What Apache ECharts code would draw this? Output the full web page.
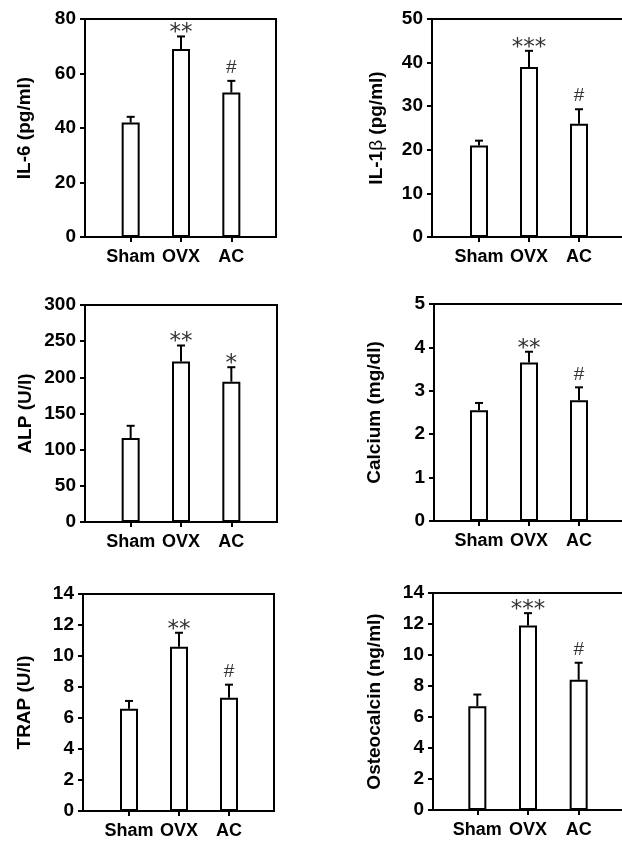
<!DOCTYPE html>
<html>
<head>
<meta charset="utf-8">
<script src="https://cdn.jsdelivr.net/npm/echarts@6/dist/echarts.min.js"></script>
<style>
html,body{margin:0;padding:0;background:#fff;}
#chart{width:622px;height:843px;}
</style>
</head>
<body>
<div id="chart"></div>
<script>
// ---- data ----
var categories = ['Sham', 'OVX', 'AC'];

var il6Mean = [42, 69, 53];
var il6Err = [2.1, 4.6, 4.3];
var il6Sig = ['', '**', '#'];

var il1bMean = [21, 39, 26];
var il1bErr = [1.1, 3.7, 3.3];
var il1bSig = ['', '***', '#'];

var alpMean = [116, 222, 194];
var alpErr = [17, 22, 20];
var alpSig = ['', '**', '*'];

var calciumMean = [2.55, 3.65, 2.78];
var calciumErr = [0.17, 0.25, 0.3];
var calciumSig = ['', '**', '#'];

var trapMean = [6.6, 10.6, 7.3];
var trapErr = [0.5, 0.9, 0.85];
var trapSig = ['', '**', '#'];

var osteoMean = [6.7, 11.9, 8.4];
var osteoErr = [0.75, 0.8, 1.1];
var osteoSig = ['', '***', '#'];

var yNames = ['IL-6 (pg/ml)', 'IL-1{b|β} (pg/ml)', 'ALP (U/l)', 'Calcium (mg/dl)', 'TRAP (U/l)', 'Osteocalcin (ng/ml)'];
var yMax = [80, 50, 300, 5, 14, 14];
var yInterval = [20, 10, 50, 1, 2, 2];

// ---- layout (positions/styles) ----
var panels = [
  {mean: il6Mean, err: il6Err, sig: il6Sig, frame: {left: 85, top: 19, width: 191, height: 218}, bars: {left: 105.5, width: 151}, gap: 51, rightLine: true},
  {mean: il1bMean, err: il1bErr, sig: il1bSig, frame: {left: 432, top: 19, width: 200, height: 218}, bars: {left: 454, width: 150}, gap: 46, rightLine: false},
  {mean: alpMean, err: alpErr, sig: alpSig, frame: {left: 85, top: 305, width: 192, height: 217}, bars: {left: 105.5, width: 151}, gap: 50, rightLine: true},
  {mean: calciumMean, err: calciumErr, sig: calciumSig, frame: {left: 434, top: 304, width: 200, height: 217}, bars: {left: 454, width: 150}, gap: 50, rightLine: false},
  {mean: trapMean, err: trapErr, sig: trapSig, frame: {left: 83, top: 594, width: 191, height: 217}, bars: {left: 104, width: 150}, gap: 49, rightLine: true},
  {mean: osteoMean, err: osteoErr, sig: osteoSig, frame: {left: 433, top: 593, width: 200, height: 217}, bars: {left: 452, width: 152}, gap: 49, rightLine: false}
];

var FONT = "'Liberation Sans', Arial, Helvetica, sans-serif";
var LINE = {color: '#000', width: 2, cap: 'square'};
var grids = [], xAxes = [], yAxes = [], series = [];

function plainX(g, pos) {
  xAxes.push({type: 'value', gridIndex: g, position: pos, min: 0, max: 1,
    axisLine: {show: true, onZero: false, lineStyle: LINE},
    axisTick: {show: false}, axisLabel: {show: false}, splitLine: {show: false}});
}

panels.forEach(function (p, k) {
  var g = grids.length;
  grids.push({left: p.frame.left, top: p.frame.top, width: p.frame.width, height: p.frame.height});
  plainX(g, 'bottom');
  plainX(g, 'top');
  yAxes.push({
    type: 'value', gridIndex: g, position: 'left', min: 0, max: yMax[k], interval: yInterval[k],
    name: yNames[k], nameLocation: 'middle', nameGap: p.gap, nameRotate: 90,
    nameTextStyle: {fontFamily: FONT, fontWeight: 'bold', fontSize: 19, color: '#000',
      rich: {b: {fontFamily: FONT, fontWeight: 'normal', fontSize: 19, color: '#000'}}},
    axisLine: {show: true, onZero: false, lineStyle: LINE},
    axisTick: {show: true, length: 5, lineStyle: {color: '#000', width: 2}},
    axisLabel: {fontFamily: FONT, fontWeight: 'bold', fontSize: 19, color: '#000', margin: 9},
    splitLine: {show: false}
  });
  if (p.rightLine) {
    yAxes.push({type: 'value', gridIndex: g, position: 'right', min: 0, max: yMax[k],
      axisLine: {show: true, onZero: false, lineStyle: LINE},
      axisTick: {show: false}, axisLabel: {show: false}, splitLine: {show: false}});
  }

  // bar grid
  var bg = grids.length;
  grids.push({left: p.bars.left, top: p.frame.top, width: p.bars.width, height: p.frame.height});
  var xi = xAxes.length;
  xAxes.push({
    type: 'category', gridIndex: bg, data: categories,
    axisLine: {show: false},
    axisTick: {show: true, alignWithLabel: true, length: 5, lineStyle: {color: '#000', width: 2}},
    axisLabel: {fontFamily: FONT, fontWeight: 'bold', fontSize: 18, color: '#000', margin: 11, interval: 0}
  });
  var yi = yAxes.length;
  yAxes.push({type: 'value', gridIndex: bg, min: 0, max: yMax[k], show: false, splitLine: {show: false}});
  series.push({
    type: 'bar', xAxisIndex: xi, yAxisIndex: yi, data: p.mean, barWidth: 18,
    itemStyle: {color: '#fff', borderColor: '#000', borderWidth: 2},
    silent: true, animation: false
  });
  var errData = p.mean.map(function (m, i) { return [i, m, p.err[i]]; });
  series.push({
    type: 'custom', xAxisIndex: xi, yAxisIndex: yi, data: errData, animation: false, silent: true,
    renderItem: function (params, api) {
      var i = api.value(0), m = api.value(1), e = api.value(2);
      var b = api.coord([i, m]);
      var t = api.coord([i, m + e]);
      var s = p.sig[params.dataIndex];
      var children = [
        {type: 'line', shape: {x1: b[0], y1: b[1], x2: t[0], y2: t[1]}, style: {stroke: '#000', lineWidth: 2}},
        {type: 'line', shape: {x1: t[0] - 4, y1: t[1], x2: t[0] + 4, y2: t[1]}, style: {stroke: '#000', lineWidth: 2}}
      ];
      if (s) {
        var isHash = s === '#';
        children.push({
          type: 'text',
          style: {
            x: t[0], y: isHash ? t[1] - 13 : t[1] - 3,
            text: s, align: 'center', verticalAlign: 'middle',
            font: isHash ? ('normal 19px ' + FONT) : "normal 23px 'DejaVu Sans', sans-serif",
            fill: '#333'
          }
        });
      }
      return {type: 'group', children: children};
    }
  });
});

var chart = echarts.init(document.getElementById('chart'), null, {renderer: 'canvas'});
chart.setOption({
  animation: false,
  backgroundColor: '#fff',
  grid: grids,
  xAxis: xAxes,
  yAxis: yAxes,
  series: series
});
</script>
</body>
</html>
